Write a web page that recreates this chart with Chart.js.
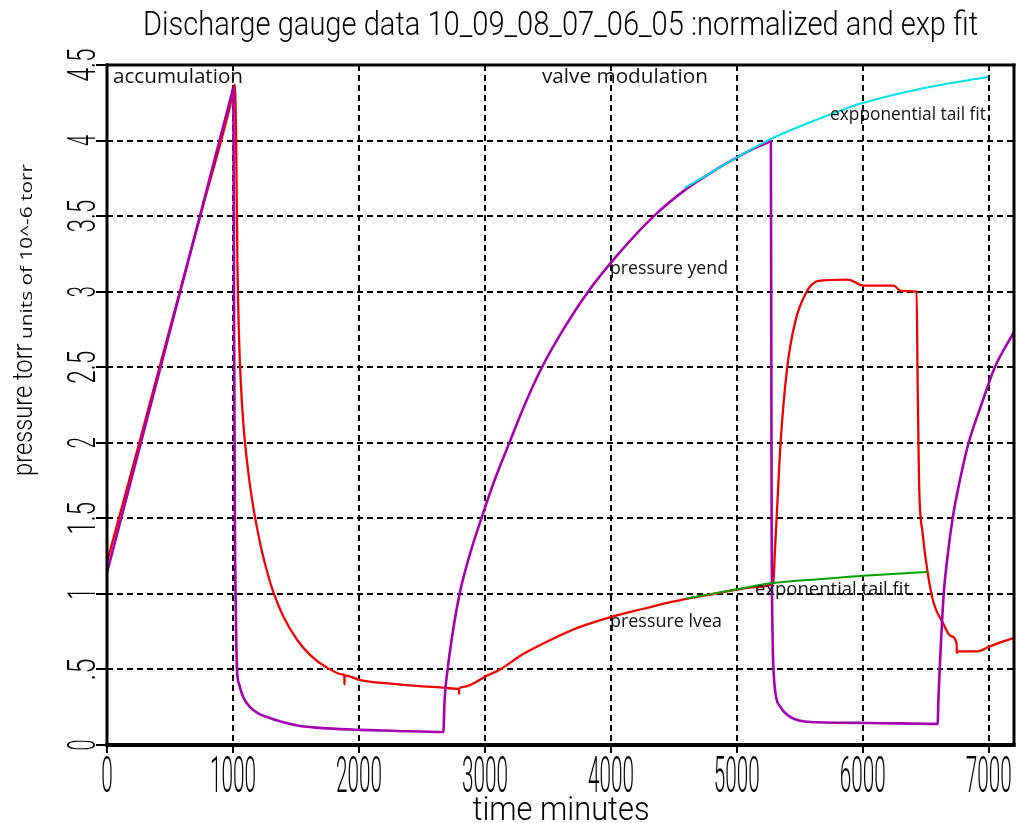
<!DOCTYPE html>
<html><head><meta charset="utf-8">
<script src="https://cdn.jsdelivr.net/npm/chart.js@4/dist/chart.umd.min.js"></script>
<style>html,body{margin:0;padding:0;background:#fff;overflow:hidden}</style>
</head><body>
<canvas id="c" width="1020" height="823"></canvas>
<script>
const titleText = 'Discharge gauge data 10_09_08_07_06_05 :normalized and exp fit';
const xAxisTitle = 'time minutes';
const yAxisTitleMain = 'pressure torr';
const yAxisTitleUnits = 'units of 10^-6 torr';

const xTickValues = [0, 1000, 2000, 3000, 4000, 5000, 6000, 7000];
const xTickLabels = ['0', '1000', '2000', '3000', '4000', '5000', '6000', '7000'];
const yTickValues = [0, 0.5, 1, 1.5, 2, 2.5, 3, 3.5, 4, 4.5];
const yTickLabels = ['0', '.5', '1', '1.5', '2', '2.5', '3', '3.5', '4', '4.5'];

// pressure yend (purple)
const yendTime = [0, 250, 500, 750, 990, 1003, 1008, 1015, 1025, 1032, 1050, 1080, 1136, 1200, 1270, 1400, 1533, 1750, 2010, 2300, 2670,
  2680, 2704, 2740, 2799, 2880, 2976, 3080, 3194, 3320, 3453, 3630, 3819, 4060, 4341, 4600, 4800, 5005, 5140, 5262, 5270,
  5276, 5284, 5291, 5307, 5347, 5426, 5585, 6038, 6594,
  6600, 6610, 6642, 6670, 6713, 6770, 6840, 6940, 7048, 7198];
const yendPressure = [1.14, 1.94, 2.74, 3.54, 4.31, 4.35, 3.0, 1.5, 0.75, 0.5, 0.4, 0.32, 0.25, 0.21, 0.185, 0.15, 0.126, 0.11, 0.10, 0.093, 0.086,
  0.3, 0.5, 0.72, 1.0, 1.26, 1.51, 1.76, 2.0, 2.26, 2.5, 2.76, 3.0, 3.25, 3.5, 3.68, 3.79, 3.89, 3.95, 3.995, 4.0,
  1.5, 0.7, 0.5, 0.34, 0.25, 0.185, 0.152, 0.146, 0.14,
  0.3, 0.5, 1.0, 1.23, 1.5, 1.75, 2.0, 2.25, 2.5, 2.73];

// pressure lvea (red)
const lveaTime = [0, 250, 500, 750, 1003, 1015, 1025, 1035, 1048, 1062, 1085, 1115, 1152, 1190, 1230, 1280, 1321, 1400, 1510, 1620, 1750, 1880, 1884, 1885, 1886,
  2010, 2330, 2687, 2790, 2794, 2795, 2796, 2830, 3020, 3120, 3300, 3520, 3750, 4012, 4250, 4500, 4750, 5013, 5148, 5290,
  5300, 5320, 5347, 5400, 5466, 5561, 5600, 5640, 5880, 6006, 6245, 6300, 6427, 6435, 6446, 6475, 6515, 6562, 6634, 6700,
  6745, 6746, 6760, 6912, 7000, 7200];
const lveaPressure = [1.21, 1.98, 2.76, 3.53, 4.32, 4.37, 4.0, 3.2, 2.7, 2.4, 2.1, 1.85, 1.62, 1.44, 1.28, 1.12, 1.01, 0.85, 0.695, 0.59, 0.51, 0.465, 0.463, 0.40, 0.46,
  0.43, 0.40, 0.378, 0.372, 0.371, 0.34, 0.373, 0.385, 0.46, 0.50, 0.60, 0.695, 0.78, 0.85, 0.90, 0.95, 0.99, 1.03, 1.045, 1.07,
  1.25, 1.57, 2.0, 2.5, 2.81, 3.01, 3.05, 3.07, 3.08, 3.04, 3.04, 3.005, 3.0, 2.4, 1.75, 1.40, 1.14, 0.94, 0.81, 0.72,
  0.67, 0.61, 0.62, 0.62, 0.65, 0.71];

// exponential tail fits
const yendFitTime = [4592, 4800, 5005, 5243, 5640, 6006, 6500, 6990];
const yendFitPressure = [3.69, 3.79, 3.89, 4.0, 4.14, 4.25, 4.35, 4.42];
const lveaFitTime = [4600, 5000, 5270, 5700, 6000, 6507];
const lveaFitPressure = [0.97, 1.03, 1.07, 1.10, 1.12, 1.145];

const pts = (xs, ys) => xs.map((x, i) => ({x, y: ys[i]}));

const TALL = '300 40px Roboto, "DejaVu Sans Mono", monospace';
const CAP = 0.711;
const SANS = '"Open Sans", "DejaVu Sans", sans-serif';

function drawTall(ctx, text, x, y, capPx, charW, align, rot) {
  const size = 40;
  ctx.save();
  ctx.font = TALL;
  const w = ctx.measureText(text).width;
  const sx = (charW * text.length) / w;
  const sy = capPx / (CAP * size);
  ctx.translate(x, y);
  if (rot) ctx.rotate(rot);
  ctx.scale(sx, sy);
  ctx.textAlign = align;
  ctx.textBaseline = 'alphabetic';
  ctx.fillStyle = '#000';
  ctx.fillText(text, 0, 0);
  ctx.restore();
}
function drawSans(ctx, text, x, y, size, width, rot) {
  ctx.save();
  ctx.font = size + 'px ' + SANS;
  const w = ctx.measureText(text).width;
  ctx.translate(x, y);
  if (rot) ctx.rotate(rot);
  ctx.scale(width / w, 1);
  ctx.textAlign = 'left';
  ctx.textBaseline = 'alphabetic';
  ctx.fillStyle = '#111';
  ctx.fillText(text, 0, 0);
  ctx.restore();
}

const annotations = [
  {text: 'accumulation', x: 113, y: 83, size: 20.5, width: 130},
  {text: 'valve modulation', x: 542, y: 83, size: 20.5, width: 166},
  {text: 'expponential tail fit', x: 830, y: 120, size: 17.5, width: 156},
  {text: 'pressure yend', x: 610, y: 274, size: 17.5, width: 118},
  {text: 'exponential tail fit', x: 755, y: 595, size: 17.5, width: 155},
  {text: 'pressure lvea', x: 610, y: 627, size: 17.5, width: 112}
];

const decor = {
  id: 'decor',
  beforeDraw(chart) {
    const ctx = chart.ctx;
    ctx.save(); ctx.fillStyle = '#fff'; ctx.fillRect(0, 0, chart.width, chart.height); ctx.restore();
  },
  afterDatasetsDraw(chart) {
    const ctx = chart.ctx;
    annotations.forEach(a => drawSans(ctx, a.text, a.x, a.y, a.size, a.width));
  },
  afterDraw(chart) {
    const ctx = chart.ctx;
    const a = chart.chartArea;
    const xs = chart.scales.x, ys = chart.scales.y;
    ctx.save();
    ctx.fillStyle = '#000';
    ctx.fillRect(a.left - 1.5, a.top - 1.5, 3, a.bottom - a.top + 3);
    ctx.fillRect(a.right - 1.5, a.top - 1.5, 3, a.bottom - a.top + 3);
    ctx.fillRect(a.left - 1.5, a.top - 1.5, a.right - a.left + 3, 3);
    ctx.fillRect(a.left - 1.5, a.bottom - 2, a.right - a.left + 3, 4);
    ctx.restore();
    xTickValues.forEach((v, i) => {
      drawTall(ctx, xTickLabels[i], xs.getPixelForValue(v), 792, 35, 11.5, 'center', 0);
    });
    yTickValues.forEach((v, i) => {
      drawTall(ctx, yTickLabels[i], 95, ys.getPixelForValue(v), 28, 11, 'center', -Math.PI / 2);
    });
    drawTall(ctx, titleText, 560.5, 35, 24, 13.47, 'center', 0);
    drawTall(ctx, xAxisTitle, 561, 820, 24, 14.75, 'center', 0);
    drawTall(ctx, yAxisTitleMain, 32, 476, 19, 10.2, 'left', -Math.PI / 2);
    drawSans(ctx, yAxisTitleUnits, 32, 339, 17, 175, -Math.PI / 2);
  }
};

new Chart(document.getElementById('c'), {
  type: 'line',
  data: {
    datasets: [
      {label: 'exponential tail fit (lvea)', data: pts(lveaFitTime, lveaFitPressure), borderColor: 'rgb(0,160,0)', borderWidth: 2},
      {label: 'exponential tail fit (yend)', data: pts(yendFitTime, yendFitPressure), borderColor: 'rgb(0,225,230)', borderWidth: 2},
      {label: 'pressure yend', data: pts(yendTime, yendPressure), borderColor: 'rgb(165,0,175)', borderWidth: 2.6},
      {label: 'pressure lvea', data: pts(lveaTime, lveaPressure), borderColor: 'rgb(240,0,0)', borderWidth: 2.3}
    ]
  },
  options: {
    responsive: false,
    animation: false,
    devicePixelRatio: 1,
    layout: {padding: {left: 0, right: 6, top: 65, bottom: 0}},
    elements: {point: {radius: 0}, line: {cubicInterpolationMode: 'monotone', fill: false, borderCapStyle: 'round', borderJoinStyle: 'round'}},
    plugins: {legend: {display: false}, tooltip: {enabled: false}, title: {display: false}},
    scales: {
      x: {
        type: 'linear', min: 0, max: 7200, z: 1,
        afterBuildTicks: s => { s.ticks = xTickValues.map(v => ({value: v})); },
        afterFit: s => { s.height = 78; },
        ticks: {display: false},
        grid: {color: '#000', lineWidth: 2, drawTicks: true, tickLength: 8, tickColor: '#000', tickWidth: 2},
        border: {display: false, dash: [6, 4]}
      },
      y: {
        type: 'linear', min: 0, max: 4.5, z: 1,
        afterBuildTicks: s => { s.ticks = yTickValues.map(v => ({value: v})); },
        afterFit: s => { s.width = 107; },
        ticks: {display: false},
        grid: {color: '#000', lineWidth: 2, drawTicks: true, tickLength: 11, tickColor: '#000', tickWidth: 2},
        border: {display: false, dash: [6, 4]}
      }
    }
  },
  plugins: [decor]
});
</script>
</body></html>
